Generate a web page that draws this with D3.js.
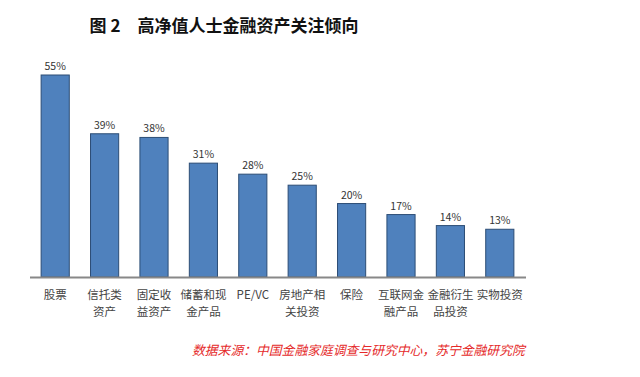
<!DOCTYPE html>
<html><head><meta charset="utf-8">
<script src="https://cdn.jsdelivr.net/npm/d3@7"></script>
<style>body{margin:0;background:#fff;}svg{display:block;}</style>
</head><body>
<script>
const categories = [["股票"],["信托类","资产"],["固定收","益资产"],["储蓄和现","金产品"],["PE/VC"],["房地产相","关投资"],["保险"],["互联网金","融产品"],["金融衍生","品投资"],["实物投资"]];
const values = [55,39,38,31,28,25,20,17,14,13];
const titleText = "图 2　高净值人士金融资产关注倾向";
const sourceText = "数据来源：中国金融家庭调查与研究中心，苏宁金融研究院";

const W=640,H=377;
const svg=d3.select("body").append("svg").attr("width",W).attr("height",H);
const font='"Noto Sans CJK SC","Noto Sans",sans-serif';
const base=277;
const x=d3.scaleBand().domain(d3.range(values.length)).range([30.5,524.5]).paddingInner(0.43).paddingOuter(0.215);
const y=d3.scaleLinear().domain([0,55]).range([base,75]);

svg.append("text").attr("x",224).attr("y",32).attr("text-anchor","middle")
 .attr("font-family",font).attr("font-weight","bold").attr("font-size",17).attr("fill","#111")
 .attr("xml:space","preserve").text(titleText);

svg.selectAll("rect.bar").data(values).join("rect").attr("class","bar")
 .attr("x",(d,i)=>x(i)).attr("width",x.bandwidth())
 .attr("y",d=>y(d)).attr("height",d=>base-y(d))
 .attr("fill","#4f81bd").attr("stroke","#2c4d75").attr("stroke-width",1);

svg.selectAll("text.val").data(values).join("text").attr("class","val")
 .attr("x",(d,i)=>x(i)+x.bandwidth()/2).attr("y",d=>y(d)-5)
 .attr("text-anchor","middle").attr("font-family",font).attr("font-size",10.5).attr("fill","#333")
 .text(d=>d+"%");

svg.append("line").attr("x1",30).attr("x2",526).attr("y1",base+0.5).attr("y2",base+0.5)
 .attr("stroke","#888").attr("stroke-width",2);

const lab=svg.selectAll("g.lab").data(categories).join("g").attr("class","lab")
 .attr("transform",(d,i)=>`translate(${x(i)+x.bandwidth()/2},0)`);
lab.selectAll("text").data(d=>d).join("text")
 .attr("x",0).attr("y",(d,j)=>299+j*17).attr("text-anchor","middle")
 .attr("font-family",font).attr("font-size",11.5).attr("fill","#444").text(d=>d);

svg.append("text").attr("x",192).attr("y",355)
 .attr("font-family",font).attr("font-style","italic").attr("font-size",12.8).attr("fill","#e52a2a")
 .text(sourceText);
</script>
</body></html>
